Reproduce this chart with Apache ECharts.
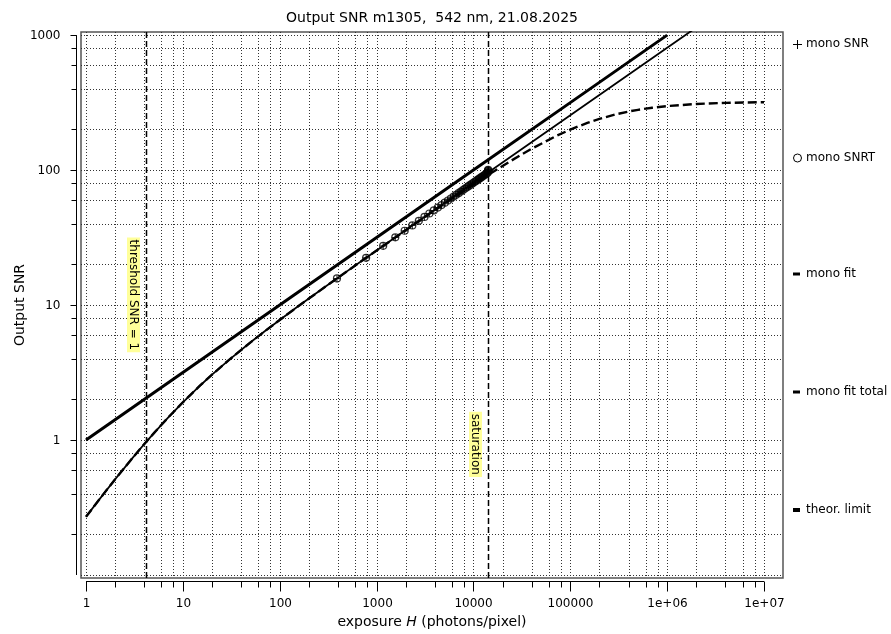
<!DOCTYPE html>
<html><head><meta charset="utf-8">
<script src="https://cdn.jsdelivr.net/npm/echarts@6/dist/echarts.min.js"></script>
<style>html,body{margin:0;padding:0;background:#fff}#c{width:891px;height:634px}</style>
</head><body><div id="c"></div>
<script>
// ---------------- data ----------------
const titleText = 'Output SNR m1305,  542 nm, 21.08.2025';
const xAxisTitle = 'exposure {i|H} (photons/pixel)';
const yAxisTitle = 'Output SNR';
const xMajorTicks = [1, 10, 100, 1000, 10000, 100000, 1000000, 10000000];
const xTickLabels = ['1', '10', '100', '1000', '10000', '100000', '1e+06', '1e+07'];
const yMajorTicks = [0.1, 1, 10, 100, 1000];
const yTickLabels = ['', '1', '10', '100', '1000'];
const minorMultipliers = [2, 4, 6, 8];

const theorLimit = [[1, 1], [10, 3.162], [100, 10], [1000, 31.62], [10000, 100], [100000, 316.2], [1000000, 1000]];
const monoFit = [[1, 0.270], [1.5, 0.394], [2, 0.512], [3, 0.732], [4, 0.934], [5, 1.121], [7, 1.461], [10, 1.904],
  [15, 2.526], [20, 3.051], [30, 3.928], [50, 5.297], [70, 6.393], [100, 7.761], [150, 9.623], [200, 11.18],
  [300, 13.78], [400, 15.97], [700, 21.21], [1000, 25.39], [2000, 35.98], [4000, 50.94], [10000, 80.59],
  [100000, 254.9], [1000000, 806.2], [2000000, 1140]];
const monoFitTotal = [[1, 0.270], [1.5, 0.394], [2, 0.512], [3, 0.732], [4, 0.934], [5, 1.121], [7, 1.461], [10, 1.904],
  [15, 2.526], [20, 3.05], [30, 3.928], [50, 5.296], [70, 6.392], [100, 7.759], [150, 9.62], [200, 11.17],
  [300, 13.77], [400, 15.95], [700, 21.18], [1000, 25.34], [2000, 35.87], [4000, 50.6], [7000, 66.0],
  [10000, 78.2], [14000, 91.4], [20000, 107.4], [30000, 128.0], [40000, 144.1], [70000, 177.7],
  [100000, 199.7], [150000, 223.8], [200000, 239.8], [300000, 259.7], [400000, 271.7], [500000, 279.7],
  [700000, 289.9], [1000000, 298.3], [2000000, 309.0], [4000000, 314.9], [10000000, 318.6]];
const monoSNRT = [[390, 15.76], [780, 22.40], [1170, 27.48], [1560, 31.76], [1950, 35.53], [2340, 38.93],
  [2730, 42.06], [3120, 44.98], [3510, 47.71], [3900, 50.30], [4290, 52.76], [4680, 55.11], [5070, 57.36],
  [5460, 59.53], [5850, 61.62], [6240, 63.64], [6630, 65.61], [7020, 67.51], [7410, 69.36], [7800, 71.17],
  [8190, 72.93], [8580, 74.64], [8970, 76.32], [9360, 77.97], [9750, 79.58], [10140, 81.15], [10530, 82.70],
  [10920, 84.22], [11310, 85.71], [11700, 87.18], [12090, 88.62], [12480, 90.04], [12870, 91.43],
  [13260, 92.81], [13650, 94.17], [14040, 95.50], [14100, 97.5], [14150, 99.0], [14200, 100.5]];
const monoSNR = [[390, 15.70], [780, 22.35], [1170, 27.42], [1560, 31.70], [1950, 35.48], [2340, 38.88],
  [2730, 42.01], [3120, 44.93], [3510, 47.66], [3900, 50.25], [4290, 52.71], [4680, 55.06], [5070, 57.31],
  [5460, 59.48], [5850, 61.57], [6240, 63.59], [6630, 65.56], [7020, 67.46], [7410, 69.31], [7800, 71.12],
  [8190, 72.88], [8580, 74.59], [8970, 76.27], [9360, 77.92], [9750, 79.53], [10140, 81.10], [10530, 82.65],
  [10920, 84.17], [11310, 85.66], [11700, 87.13], [12090, 88.57], [12480, 89.99], [12870, 91.38],
  [13260, 92.76], [13650, 94.12], [14040, 95.45], [14100, 97.4], [14150, 98.9], [14200, 100.4]];
const thresholdH = 4.16;
const saturationH = 14300;
const thresholdLabel = 'threshold SNR = 1';
const saturationLabel = 'saturation';
const legendNames = ['mono SNR', 'mono SNRT', 'mono fit', 'mono fit total', 'theor. limit'];

// ---------------- chart ----------------
const FONT = '"DejaVu Sans", Verdana, sans-serif';
const X_MIN = 0.888, X_MAX = 1.57e7, Y_MIN = 0.095, Y_MAX = 1055;

const xMinor = [];
xMajorTicks.slice(0, -1).forEach(d => minorMultipliers.forEach(m => xMinor.push(+(m * d).toPrecision(6))));
const yMinor = [];
yMajorTicks.slice(0, -1).forEach(d => minorMultipliers.forEach(m => yMinor.push(+(m * d).toPrecision(6))));

function txt(x, y, text, opt) {
  return Object.assign({ type: 'text', x: x, y: y, silent: true,
    style: Object.assign({ text: text, fill: '#000', fontSize: 12, fontFamily: FONT, align: 'center', verticalAlign: 'middle' }, opt || {}) });
}
function ln(x1, y1, x2, y2, style) {
  return { type: 'line', silent: true, shape: { x1: x1, y1: y1, x2: x2, y2: y2 }, style: Object.assign({ stroke: '#000', lineWidth: 1 }, style || {}) };
}

function renderFrame(params, api) {
  const c = (x, y) => api.coord([x, y]);
  const xl = c(X_MIN, 1)[0], xr = c(X_MAX, 1)[0];
  const yb = c(1, Y_MIN)[1], yt = c(1, Y_MAX)[1];
  const kids = [];
  const dot = { stroke: '#333', lineWidth: 1, lineDash: [1, 2] };
  xMajorTicks.concat(xMinor).forEach(v => {
    const x = Math.round(c(v, 1)[0]) + 0.5;
    kids.push(ln(x, yt, x, yb, dot));
  });
  yMajorTicks.concat(yMinor).forEach(v => {
    const y = Math.round(c(1, v)[1]) + 0.5;
    kids.push(ln(xl, y, xr, y, dot));
  });
  // x axis (offset below frame)
  const axY = Math.round(yb) + 3.5;
  const xa0 = c(xMajorTicks[0], 1)[0], xa1 = c(xMajorTicks[xMajorTicks.length - 1], 1)[0];
  kids.push(ln(xa0, axY, xa1, axY));
  xMajorTicks.forEach((v, i) => {
    const x = Math.round(c(v, 1)[0]) + 0.5;
    kids.push(ln(x, axY, x, axY + 10));
    kids.push(txt(x, axY + 22, xTickLabels[i]));
  });
  xMinor.forEach(v => {
    const x = Math.round(c(v, 1)[0]) + 0.5;
    kids.push(ln(x, axY, x, axY + 6));
  });
  // y axis (offset left of frame)
  const axX = Math.round(xl) - 4.5;
  kids.push(ln(axX, c(1, yMajorTicks[0])[1], axX, c(1, yMajorTicks[yMajorTicks.length - 1])[1]));
  yMajorTicks.forEach((v, i) => {
    if (!yTickLabels[i]) return;
    const y = Math.round(c(1, v)[1]) + 0.5;
    kids.push(ln(axX - 6, y, axX, y));
    kids.push(txt(axX - 16, y, yTickLabels[i], { align: 'right' }));
  });
  yMinor.forEach(v => {
    const y = Math.round(c(1, v)[1]) + 0.5;
    kids.push(ln(axX - 5, y, axX, y));
  });
  return { type: 'group', children: kids };
}

function renderMarkers(params, api) {
  const c = (x, y) => api.coord([x, y]);
  const yb = c(1, Y_MIN)[1], yt = c(1, Y_MAX)[1];
  const kids = [];
  const dash = { stroke: '#000', lineWidth: 1.5, lineDash: [6, 3] };
  const xt = Math.round(c(thresholdH, 1)[0]) + 0.5;
  const xs = Math.round(c(saturationH, 1)[0]) + 0.5;
  kids.push(ln(xt, yt, xt, yb, dash));
  kids.push(ln(xs, yt, xs, yb, dash));
  const lab = { backgroundColor: '#ffff99', padding: [1, 2, 0, 2] };
  kids.push(Object.assign(txt(xt - 13, c(1, 11.9)[1], thresholdLabel, lab), { rotation: -Math.PI / 2 }));
  kids.push(Object.assign(txt(xs - 13, c(1, 0.93)[1], saturationLabel, lab), { rotation: -Math.PI / 2 }));
  return { type: 'group', children: kids };
}

const plusPath = 'path://M4.2,0H5.8V4.2H10V5.8H5.8V10H4.2V5.8H0V4.2H4.2Z';

const legendY = [44, 158, 274, 392, 510];
const legendGraphics = [];
legendNames.forEach((n, i) => {
  legendGraphics.push(txt(806, legendY[i], n, { align: 'left' }));
});
legendGraphics.push(ln(793, legendY[0] + 0.5, 802, legendY[0] + 0.5));
legendGraphics.push(ln(797.5, legendY[0] - 4, 797.5, legendY[0] + 5));
legendGraphics.push({ type: 'circle', silent: true, shape: { cx: 797.5, cy: legendY[1], r: 4 }, style: { fill: 'none', stroke: '#000', lineWidth: 1 } });
legendGraphics.push({ type: 'rect', silent: true, shape: { x: 793, y: legendY[2] - 1.5, width: 7, height: 3 }, style: { fill: '#000' } });
legendGraphics.push({ type: 'rect', silent: true, shape: { x: 793, y: legendY[3] - 1.5, width: 7, height: 3 }, style: { fill: '#000' } });
legendGraphics.push({ type: 'rect', silent: true, shape: { x: 793, y: legendY[4] - 2, width: 7, height: 4 }, style: { fill: '#000' } });

const chart = echarts.init(document.getElementById('c'));
chart.setOption({
  animation: false,
  backgroundColor: '#fff',
  grid: { left: 81, right: 108, top: 32, bottom: 56, show: true, borderColor: '#555', borderWidth: 1.5, backgroundColor: 'transparent' },
  xAxis: { type: 'log', logBase: 10, min: X_MIN, max: X_MAX,
    axisLine: { show: false }, axisTick: { show: false }, axisLabel: { show: false }, splitLine: { show: false }, minorTick: { show: false } },
  yAxis: { type: 'log', logBase: 10, min: Y_MIN, max: Y_MAX,
    axisLine: { show: false }, axisTick: { show: false }, axisLabel: { show: false }, splitLine: { show: false }, minorTick: { show: false } },
  graphic: [
    txt(432, 18, titleText, { fontSize: 14 }),
    txt(432, 622, xAxisTitle, { fontSize: 14, rich: { i: { fontStyle: 'italic', fontSize: 14, fontFamily: FONT } } }),
    Object.assign(txt(20, 305, yAxisTitle, { fontSize: 14 }), { rotation: Math.PI / 2 })
  ].concat(legendGraphics),
  series: [
    { type: 'custom', name: 'frame', z: 1, silent: true, clip: false, data: [[1, 1]], renderItem: renderFrame },
    { type: 'custom', name: 'markers', z: 2, silent: true, clip: false, data: [[1, 1]], renderItem: renderMarkers },
    { type: 'line', name: 'theor. limit', z: 3, data: theorLimit, showSymbol: false, symbol: 'none',
      lineStyle: { color: '#000', width: 3 } },
    { type: 'line', name: 'mono fit', z: 3, data: monoFit, showSymbol: false, symbol: 'none',
      lineStyle: { color: '#000', width: 1.8 } },
    { type: 'line', name: 'mono fit total', z: 3, data: monoFitTotal, showSymbol: false, symbol: 'none',
      lineStyle: { color: '#000', width: 2.4, type: [9, 4] } },
    { type: 'scatter', name: 'mono SNR', z: 4, data: monoSNR, symbol: plusPath, symbolSize: 7,
      itemStyle: { color: '#000' } },
    { type: 'scatter', name: 'mono SNRT', z: 5, data: monoSNRT, symbol: 'circle', symbolSize: 7,
      itemStyle: { color: 'transparent', borderColor: '#000', borderWidth: 1.2 } }
  ]
});
</script>
</body></html>
